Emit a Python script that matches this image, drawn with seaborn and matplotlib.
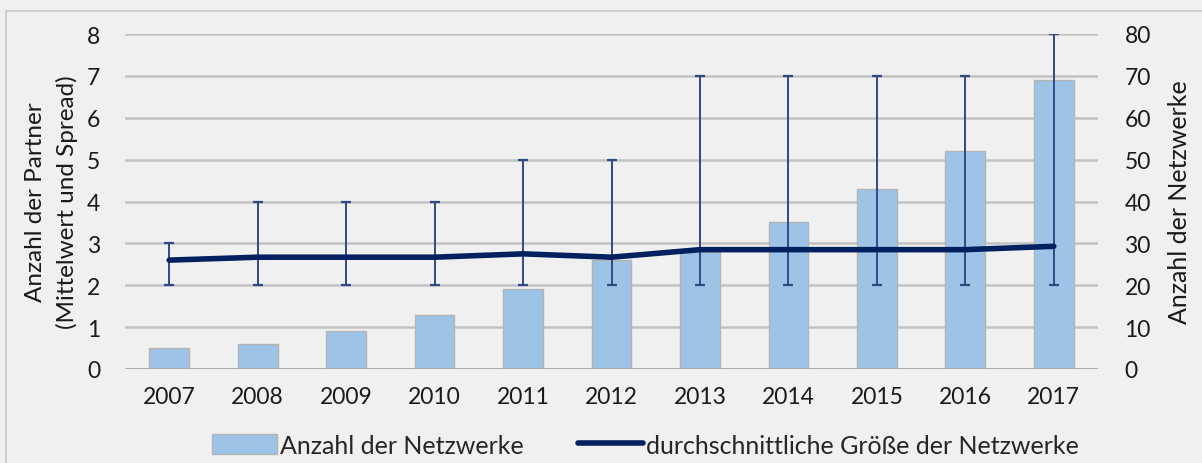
#!/usr/bin/env python3
"""Netzwerke: Anzahl und durchschnittliche Größe pro Jahr."""

import matplotlib
matplotlib.use("Agg")
import matplotlib.pyplot as plt
from matplotlib.lines import Line2D
from matplotlib.patches import Patch, Rectangle
import numpy as np
import seaborn as sns

years = ["2007", "2008", "2009", "2010", "2011", "2012", "2013", "2014", "2015", "2016", "2017"]
n_networks = [5, 6, 9, 13, 19, 26, 28, 35, 43, 52, 69]
mean_partners = [2.6, 2.67, 2.67, 2.67, 2.75, 2.67, 2.85, 2.85, 2.85, 2.85, 2.93]
min_partners = [2, 2, 2, 2, 2, 2, 2, 2, 2, 2, 2]
max_partners = [3, 4, 4, 4, 5, 5, 7, 7, 7, 7, 8]

BG = "#f0f0f0"
BAR = "#9dc3e6"
LINE = "#002060"
ERR = "#2f4b85"
GRID = "#c2c2c2"
TXT = "#1a1a1a"


def main() -> int:
    sns.set_theme(style="white")
    plt.rcParams["font.family"] = ["Lato", "DejaVu Sans"]

    fig = plt.figure(figsize=(12.02, 4.64), dpi=100, facecolor=BG)
    fig.patches.append(Rectangle((6 / 1202, -0.1), 1.1, 0.1 + (464 - 12) / 464,
                                 transform=fig.transFigure, fill=False,
                                 edgecolor="#c8c8c8", linewidth=1.2))
    ax = fig.add_axes([125 / 1202, 1 - 370 / 464, 973 / 1202, 335 / 464])
    ax2 = ax.twinx()

    # bars on the right axis (drawn behind the line axis)
    sns.barplot(x=years, y=n_networks, ax=ax2, color=BAR, width=0.45,
                edgecolor="#b4b4b4", linewidth=1.0, saturation=1, zorder=2)
    ax2.set_ylim(0, 80)
    ax2.set_yticks(range(0, 81, 10))
    ax2.yaxis.grid(True, color=GRID, linewidth=1.8, zorder=0)
    ax2.set_axisbelow(True)
    ax2.set_facecolor(BG)

    pos = np.arange(len(years))
    lo = np.array(mean_partners) - np.array(min_partners)
    hi = np.array(max_partners) - np.array(mean_partners)
    ax.errorbar(pos, mean_partners, yerr=[lo, hi], fmt="none", ecolor=ERR,
                elinewidth=1.4, capsize=3.5, capthick=1.6, zorder=3)
    sns.lineplot(x=pos, y=mean_partners, ax=ax, color=LINE, linewidth=4, zorder=4)
    ax.set_ylim(0, 8)
    ax.set_yticks(range(0, 9))
    ax.set_xlim(-0.5, len(years) - 0.5)
    ax.set_zorder(ax2.get_zorder() + 1)
    ax.patch.set_visible(False)
    ax.axhline(0, color="#a6a6a6", linewidth=1.8, zorder=1)

    for a in (ax, ax2):
        for s in a.spines.values():
            s.set_visible(False)
        a.tick_params(axis="both", length=0, labelsize=16.5, colors=TXT)
    ax.set_xticks(pos)
    ax.set_xticklabels(years)
    ax.tick_params(axis="x", pad=12)
    ax.tick_params(axis="y", pad=18)
    ax2.tick_params(axis="y", pad=19)
    ax2.set_xlabel("")

    ax.set_ylabel("Anzahl der Partner\n(Mittelwert und Spread)", fontsize=17.5,
                  color=TXT, labelpad=6, linespacing=1.55)
    ax2.set_ylabel("Anzahl der Netzwerke", fontsize=18, color=TXT, labelpad=12)

    handles = [Patch(facecolor=BAR, edgecolor="#b4b4b4"),
               Line2D([], [], color=LINE, linewidth=4)]
    fig.legend(handles, ["Anzahl der Netzwerke", "durchschnittliche Größe der Netzwerke"],
               loc="lower center", bbox_to_anchor=(0.537, -0.035), ncol=2, frameon=False,
               fontsize=18, handlelength=2.6, handleheight=0.9, handletextpad=0.1,
               columnspacing=2.2)

    fig.savefig("out.png", dpi=100, facecolor=BG)
    plt.close(fig)
    return 0


if __name__ == "__main__":
    raise SystemExit(main())
